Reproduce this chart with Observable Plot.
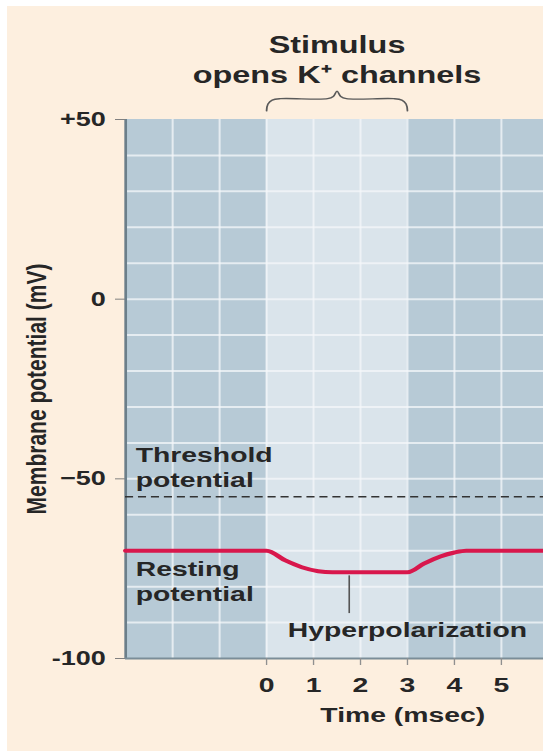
<!DOCTYPE html>
<html>
<head>
<meta charset="utf-8">
<script src="https://cdn.jsdelivr.net/npm/d3@7"></script>
<script src="https://cdn.jsdelivr.net/npm/@observablehq/plot@0.6"></script>
<style>
  html, body { margin: 0; padding: 0; background: #ffffff; }
  #wrap { position: relative; width: 543px; height: 751px; overflow: hidden; background: #ffffff; }
  #paper { position: absolute; left: 7px; top: 6px; right: 0; bottom: 0; background: #fdefdf; }
  #chart { position: absolute; left: 0; top: 0; }
</style>
</head>
<body>
<div id="wrap"><div id="paper"></div><div id="chart"></div></div>
<script>
// ---- data ----
const timeMs     = [-3, 0, 0.4, 0.75, 1.1, 1.4, 3.0, 3.35, 3.7, 4.0, 4.25, 5.9];
const membraneMv = [-70, -70, -72.7, -74.6, -75.7, -76, -76, -73.6, -71.6, -70.5, -70, -70];

const thresholdMv = -55;
const stimStart = 0;
const stimEnd = 3;

const yTicks = [50, 0, -50, -100];
const yTickLabels = ["+50", "0", "\u221250", "-100"];
const xTicks = [0, 1, 2, 3, 4, 5];
const gridMv = [-90, -80, -70, -60, -50, -40, -30, -20, -10, 0, 10, 20, 30, 40];
const gridTime = [-2, -1, 0, 1, 2, 3, 4, 5];

const titleText = "Stimulus\nopens K\u207A channels";
const xLabelText = "Time (msec)";
const yLabelText = "Membrane potential (mV)";

const noteText = ["Threshold\npotential", "Resting\npotential"];
const noteMv   = [-52.3, -83.9];
const hyperText = "Hyperpolarization";
const hyperTextTime = 0.45;
const hyperTextMv = -93.9;
const leaderTime = 1.76;
const leaderMv = [-77, -87.5];

const braceTime = [0, 0.03, 0.12, 0.3, 1.3, 1.42, 1.5, 1.58, 1.7, 2.7, 2.88, 2.97, 3];
const braceMv   = [52.4, 54.3, 55.4, 55.8, 55.8, 56.4, 57.9, 56.4, 55.8, 55.8, 55.4, 54.3, 52.4];

// ---- layout (picture is horizontally stretched) ----
const S = 1.35;
const W = 543 / S;
const font = "'Liberation Sans', Arial, Helvetica, sans-serif";
const ink = "#262626";

const curve = timeMs.map((t, i) => ({t, v: membraneMv[i]}));
const brace = braceTime.map((t, i) => ({t, v: braceMv[i]}));
const notes = noteText.map((text, i) => ({text, v: noteMv[i]}));

const chart = Plot.plot({
  width: W,
  height: 751,
  marginLeft: 125 / S,
  marginRight: 0,
  marginTop: 119,
  marginBottom: 93,
  style: {background: "transparent", fontFamily: font, fontWeight: "bold", color: ink, overflow: "hidden"},
  x: {domain: [-3, 5.9]},
  y: {domain: [-100, 50]},
  marks: [
    Plot.rect([0], {x1: -3, x2: 5.9, y1: -100, y2: 50, fill: "#b7cad6"}),
    Plot.rect([0], {x1: stimStart, x2: stimEnd, y1: -100, y2: 50, fill: "#dae4eb"}),
    Plot.gridY(gridMv, {stroke: "#f4f7f9", strokeOpacity: 0.75, strokeWidth: 2}),
    Plot.gridX(gridTime, {stroke: "#f4f7f9", strokeOpacity: 0.75, strokeWidth: 1.5}),
    Plot.ruleX([-3], {stroke: "#6c7f8a", strokeWidth: 2}),
    Plot.ruleY([-100], {stroke: "#7b8d98", strokeWidth: 2}),
    Plot.axisY(yTicks, {
      tickFormat: d => yTickLabels[yTicks.indexOf(d)],
      tickSize: 10 / S, tickPadding: 10 / S, fontSize: 20,
      stroke: "#808080", fill: ink, label: null
    }),
    Plot.axisX(xTicks, {
      tickFormat: d => String(d),
      tickSize: 7, tickPadding: 12, fontSize: 21,
      stroke: "#909090", fill: ink, label: null
    }),
    Plot.ruleY([thresholdMv], {stroke: "#333333", strokeWidth: 1.4, strokeDasharray: "6,3.6"}),
    Plot.ruleX([leaderTime], {y1: leaderMv[0], y2: leaderMv[1], stroke: "#555555", strokeWidth: 1.2}),
    Plot.line(curve, {x: "t", y: "v", stroke: "#d8174c", strokeWidth: 4, curve: "monotone-x"}),
    Plot.line(brace, {x: "t", y: "v", stroke: "#5a5a5a", strokeWidth: 1.3, curve: "catmull-rom"}),
    Plot.text(notes, {x: -3, y: "v", text: "text", dx: 10 / S, textAnchor: "start", lineAnchor: "bottom", lineHeight: 1.19, fontSize: 21, fill: ink}),
    Plot.text([hyperText], {x: hyperTextTime, y: hyperTextMv, text: d => d, textAnchor: "start", lineAnchor: "bottom", fontSize: 21, fill: ink}),
    Plot.text([titleText], {x: (stimStart + stimEnd) / 2, text: d => d, frameAnchor: "top", dy: -37, lineAnchor: "bottom", lineHeight: 1.25, fontSize: 24, fill: ink}),
    Plot.text([xLabelText], {x: 2.9, text: d => d, frameAnchor: "bottom", dy: 63, lineAnchor: "bottom", fontSize: 21, fill: ink}),
    Plot.text([yLabelText], {text: d => d, frameAnchor: "left", textAnchor: "middle", rotate: -90, dx: 33.5 - 125 / S, lineAnchor: "bottom", fontSize: 21, fill: ink})
  ]
});

chart.setAttribute("width", 543);
chart.setAttribute("height", 751);
chart.setAttribute("preserveAspectRatio", "none");
chart.style.width = "543px";
chart.style.height = "751px";
chart.style.maxWidth = "none";
document.getElementById("chart").append(chart);
</script>
</body>
</html>
